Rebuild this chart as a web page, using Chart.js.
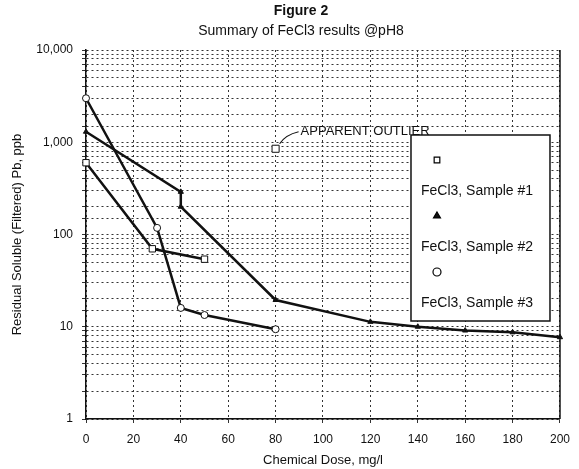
<!DOCTYPE html>
<html>
<head>
<meta charset="utf-8">
<script src="https://cdn.jsdelivr.net/npm/chart.js@4.4.1/dist/chart.umd.min.js"></script>
<style>
  html, body { margin: 0; padding: 0; background: #fff; }
</style>
</head>
<body>
<canvas id="chart" width="579" height="469"></canvas>
<script>
const FONT = "'Liberation Sans', Arial, sans-serif";

// values
const dose1 = [0, 28, 50];
const pb1 = [600, 70, 54];
const outlierDose = [80];
const outlierPb = [850];
const dose2 = [0, 40, 40, 80, 120, 140, 160, 180, 200];
const pb2 = [1300, 290, 200, 19.5, 11.3, 10, 9.1, 8.7, 7.7];
const dose3 = [0, 30, 40, 50, 80];
const pb3 = [3000, 118, 16, 13.4, 9.4];
const seriesNames = ['FeCl3, Sample #1', 'FeCl3, Sample #2', 'FeCl3, Sample #3'];
const yMajor = [1, 10, 100, 1000, 10000];
const yMajorLabels = ['1', '10', '100', '1,000', '10,000'];

function pts(xs, ys) {
  return xs.map(function (x, i) { return { x: x, y: ys[i] }; });
}

var ctx = document.getElementById('chart').getContext('2d');

const titles = {
  id: 'titles',
  afterDraw(chart) {
    const c = chart.ctx;
    c.save();
    c.fillStyle = '#111';
    c.textAlign = 'center';
    c.textBaseline = 'middle';
    c.font = 'bold 14px ' + FONT;
    c.fillText('Figure 2', 301, 11);
    c.font = '14px ' + FONT;
    c.fillText('Summary of FeCl3 results @pH8', 301, 31);
    c.restore();
  }
};

// right-hand frame line
const frame = {
  id: 'frame',
  beforeDatasetsDraw(chart) {
    const c = chart.ctx, a = chart.chartArea;
    c.save();
    c.strokeStyle = '#111';
    c.lineWidth = 1.5;
    c.beginPath();
    c.moveTo(a.right, a.top);
    c.lineTo(a.right, a.bottom);
    c.stroke();
    c.restore();
  }
};

const legendBox = {
  id: 'legendBox',
  afterDraw(chart) {
    const c = chart.ctx, a = chart.chartArea;
    const x0 = a.right - 149, y0 = a.top + 85, w = 139, h = 186;
    c.save();
    c.fillStyle = '#fff';
    c.fillRect(x0, y0, w, h);
    c.strokeStyle = '#111';
    c.lineWidth = 1.5;
    c.strokeRect(x0, y0, w, h);
    chart.data.datasets.slice(0, 3).forEach(function (ds, i) {
      const my = y0 + 25 + i * 56;
      c.fillStyle = ds.pointBackgroundColor;
      c.strokeStyle = '#000';
      c.lineWidth = 1.2;
      Chart.helpers.drawPoint(c, { pointStyle: ds.pointStyle, radius: 4, rotation: 0, borderWidth: 1.2 }, x0 + 26, my);
      c.fillStyle = '#111';
      c.font = '14px ' + FONT;
      c.textAlign = 'left';
      c.textBaseline = 'middle';
      c.fillText(ds.label, x0 + 10, my + 31);
    });
    c.restore();
  }
};

const outlierNote = {
  id: 'outlierNote',
  afterDraw(chart) {
    const c = chart.ctx;
    const px = chart.scales.x.getPixelForValue(outlierDose[0]);
    const py = chart.scales.y.getPixelForValue(outlierPb[0]);
    c.save();
    c.strokeStyle = '#111';
    c.lineWidth = 1.2;
    c.beginPath();
    c.moveTo(px + 4, py - 5);
    c.quadraticCurveTo(px + 10, py - 14, px + 23, py - 17);
    c.stroke();
    c.fillStyle = '#111';
    c.font = '13px ' + FONT;
    c.textAlign = 'left';
    c.textBaseline = 'middle';
    c.fillText('APPARENT OUTLIER', px + 25, py - 17);
    c.restore();
  }
};

const gridStyle = {
  color: '#333',
  lineWidth: 1,
  drawTicks: true,
  tickLength: 4,
  tickColor: '#333'
};

const borderStyle = { display: true, color: '#111', width: 1.5, dash: [2, 3] };

const config = {
  type: 'line',
  data: {
    datasets: [
      {
        label: seriesNames[0],
        data: pts(dose1, pb1),
        clip: 8,
        borderColor: '#111',
        borderWidth: 2.5,
        pointStyle: 'rect',
        pointRadius: 4.5,
        pointBackgroundColor: '#fff',
        pointBorderColor: '#111',
        pointBorderWidth: 1
      },
      {
        label: seriesNames[1],
        data: pts(dose2, pb2),
        clip: 8,
        borderColor: '#111',
        borderWidth: 2.5,
        pointStyle: 'triangle',
        pointRadius: 3,
        pointBackgroundColor: '#111',
        pointBorderColor: '#111',
        pointBorderWidth: 1
      },
      {
        label: seriesNames[2],
        data: pts(dose3, pb3),
        clip: 8,
        borderColor: '#111',
        borderWidth: 2.5,
        pointStyle: 'circle',
        pointRadius: 3.5,
        pointBackgroundColor: '#fff',
        pointBorderColor: '#111',
        pointBorderWidth: 1
      },
      {
        label: 'outlier',
        data: pts(outlierDose, outlierPb),
        showLine: false,
        pointStyle: 'rect',
        pointRadius: 5,
        pointBackgroundColor: '#fff',
        pointBorderColor: '#111',
        pointBorderWidth: 1
      }
    ]
  },
  options: {
    responsive: false,
    animation: false,
    layout: { padding: { top: 50, right: 13, left: 0, bottom: 0 } },
    plugins: {
      legend: { display: false },
      title: { display: false },
      tooltip: { enabled: false }
    },
    scales: {
      x: {
        type: 'linear',
        min: 0,
        max: 200,
        grid: gridStyle,
        border: borderStyle,
        ticks: {
          stepSize: 20,
          padding: 9,
          color: '#111',
          font: { family: FONT, size: 12 }
        },
        title: {
          display: true,
          text: 'Chemical Dose, mg/l',
          color: '#111',
          font: { family: FONT, size: 13 },
          padding: { top: 0, bottom: 1 }
        },
        afterFit(scale) { scale.height = 50; }
      },
      y: {
        type: 'logarithmic',
        min: 1,
        max: 10000,
        grid: gridStyle,
        border: borderStyle,
        ticks: {
          autoSkip: false,
          padding: 9,
          color: '#111',
          font: { family: FONT, size: 12 },
          callback: function (v) {
            const k = yMajor.indexOf(v);
            return k >= 0 ? yMajorLabels[k] : '';
          }
        },
        title: {
          display: true,
          text: 'Residual Soluble (Filtered) Pb, ppb',
          color: '#111',
          font: { family: FONT, size: 13 },
          padding: { top: 10, bottom: 0 }
        },
        afterFit(scale) { scale.width = 86; }
      }
    }
  },
  plugins: [titles, frame, legendBox, outlierNote]
};

var chart = new Chart(ctx, config);
</script>
</body>
</html>
